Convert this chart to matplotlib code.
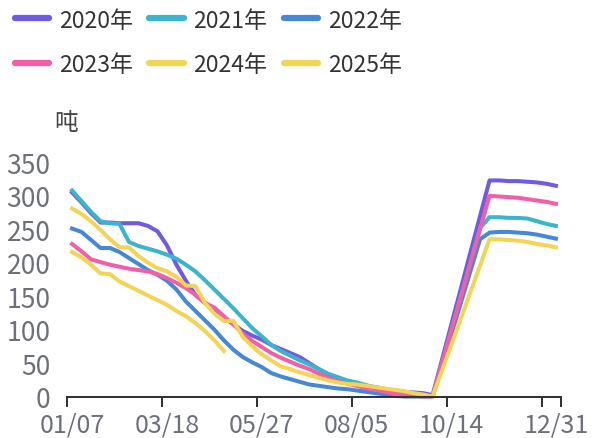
import numpy as np
import matplotlib.pyplot as plt

plt.rcParams['font.family'] = ['Noto Sans CJK SC', 'DejaVu Sans']

nan = np.nan

# weekly categories, labels shown every 10 weeks (last one is the final week)
n_weeks = 52
label_pos = [0, 10, 20, 30, 40, 51]
x_labels = ['01/07', '03/18', '05/27', '08/05', '10/14', '12/31']

years = ['2020年', '2021年', '2022年', '2023年', '2024年', '2025年']
colors = ['#7159E1', '#3BB4CE', '#4588D7', '#F25FA6', '#F3D454', '#F3D454']

y2020 = [305, 290, 274, 260, 260, 259, 259, 259, 255, 247,
         226, 197, 173, 152, 140, 128, 118, 108, 98, 91,
         85, 77, 71, 65, 59, 50, 41, 33, 27, 23,
         20, 16, 14, 11, 9, 7, 6, 5, 2, nan,
         nan, nan, nan, nan, 323, 323, 322, 322, 321, 320,
         318, 315]
y2021 = [308, 292, 276, 262, 259, 258, 231, 225, 221, 217,
         212, 206, 197, 187, 174, 160, 146, 132, 117, 102,
         90, 77, 68, 61, 54, 48, 41, 34, 29, 24,
         21, 17, 13, 10, 8, 6, 4, 2, 0, nan,
         nan, nan, nan, 252, 268, 268, 267, 267, 266, 262,
         258, 255]
y2022 = [251, 246, 234, 222, 222, 216, 207, 198, 189, 182,
         173, 160, 142, 128, 114, 100, 84, 70, 59, 51,
         44, 35, 30, 26, 22, 18, 16, 14, 12, 11,
         9, 7, 5, 3, 1, 0, 0, 0, 0, nan,
         nan, nan, nan, 235, 245, 246, 246, 245, 244, 242,
         239, 236]
y2023 = [228, 217, 205, 201, 197, 194, 191, 189, 187, 183,
         177, 170, 162, 152, 140, 133, 120, 108, 94, 83,
         74, 65, 58, 52, 46, 41, 34, 28, 23, 19,
         16, 12, 10, 7, 4, 2, 1, 0, 0, nan,
         nan, nan, nan, nan, 300, 299, 298, 297, 295, 293,
         291, 288]
y2024 = [281, 273, 262, 249, 235, 223, 223, 210, 200, 192,
         187, 179, 166, 165, 140, 124, 113, 113, 89, 75,
         63, 54, 45, 41, 36, 32, 28, 24, 21, 19,
         18, 16, 14, 12, 10, 8, 5, 3, 0, nan,
         nan, nan, nan, nan, 235, 235, 234, 233, 231, 228,
         226, 223]
y2025 = [216, 208, 197, 184, 183, 172, 165, 158, 151, 144,
         137, 128, 120, 110, 98, 84, 68]

series = [y2020, y2021, y2022, y2023, y2024, y2025]

fig = plt.figure(figsize=(5.94, 4.39), dpi=100)
ax = fig.add_axes([0.1133, 0.0945, 0.8306, 0.5334])

handles = []
for vals, c, lab in zip(series, colors, years):
    y = np.array(vals, dtype=float)
    x = np.arange(len(y))
    m = ~np.isnan(y)
    ax.plot(x[m], y[m], color=c, lw=2.9, solid_joinstyle='round', clip_on=False)
    h, = ax.plot([], [], color=c, lw=4.5, solid_capstyle='round', label=lab)
    handles.append(h)

ax.set_xlim(-0.5, n_weeks - 0.5)
ax.set_ylim(0, 350)
ax.set_yticks(range(0, 351, 50))

for s in ['top', 'right', 'left']:
    ax.spines[s].set_visible(False)
ax.spines['bottom'].set_color('#333333')
ax.spines['bottom'].set_linewidth(1.45)

# tick marks on category boundaries, labels on the categories
ax.set_xticks(list(np.arange(-0.5, 50, 10)) + [n_weeks - 0.5])
ax.set_xticklabels([])
ax.set_xticks(label_pos, minor=True)
ax.set_xticklabels(x_labels, minor=True)
ax.tick_params(axis='x', which='major', length=7, width=1.45, color='#333333')
ax.tick_params(axis='x', which='minor', length=0, pad=10.5, labelsize=18, labelcolor='#6E7079')
ax.tick_params(axis='y', length=0, pad=12, labelsize=19, labelcolor='#6E7079')

fig.text(66 / 594, 1 - 123 / 439, '吨', ha='center', va='center', fontsize=17, color='#444444')

order = [0, 3, 1, 4, 2, 5]
fig.legend([handles[i] for i in order], [years[i] for i in order],
           loc='upper left', bbox_to_anchor=(15 / 594, 1 - 9.5 / 439), ncol=3,
           frameon=False, fontsize=16.5, handlelength=1.5, handletextpad=0.42,
           columnspacing=0.72, labelspacing=0.95, borderpad=0, borderaxespad=0,
           labelcolor='#333333')

fig.savefig('out.png', dpi=100)
